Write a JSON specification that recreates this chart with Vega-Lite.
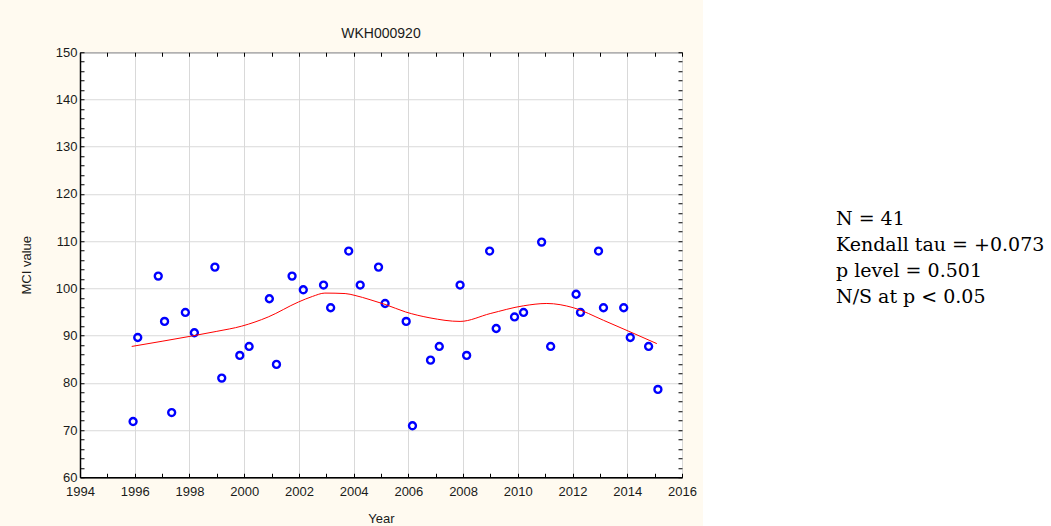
{
  "$schema": "https://vega.github.io/schema/vega-lite/v6.json",
  "background": "#fffaf0",
  "padding": {"left": 19, "top": 0, "right": 0, "bottom": 0},
  "spacing": 6,
  "center": true,
  "config": {
    "font": "Liberation Sans",
    "view": {"fill": "white", "stroke": "black", "strokeWidth": 1},
    "axis": {"labelFont": "Liberation Sans", "titleFont": "Liberation Sans", "labelFontSize": 13, "titleFontSize": 13, "titleFontWeight": "normal", "labelColor": "#1a1a1a", "titleColor": "#1a1a1a", "domainColor": "black", "tickColor": "black", "labelFlush": false, "labelOverlap": false}
  },
  "datasets": {
    "pts": [
      {"year": 1995.94, "mci": 71.8}, {"year": 1996.11, "mci": 89.6}, {"year": 1996.86, "mci": 102.6},
      {"year": 1997.09, "mci": 93.0}, {"year": 1997.35, "mci": 73.7}, {"year": 1997.85, "mci": 94.9},
      {"year": 1998.18, "mci": 90.6}, {"year": 1998.93, "mci": 104.5}, {"year": 1999.18, "mci": 81.0},
      {"year": 1999.84, "mci": 85.8}, {"year": 2000.18, "mci": 87.7}, {"year": 2000.92, "mci": 97.8},
      {"year": 2001.18, "mci": 83.9}, {"year": 2001.75, "mci": 102.6}, {"year": 2002.16, "mci": 99.7},
      {"year": 2002.90, "mci": 100.7}, {"year": 2003.16, "mci": 95.9}, {"year": 2003.82, "mci": 107.9},
      {"year": 2004.24, "mci": 100.7}, {"year": 2004.91, "mci": 104.5}, {"year": 2005.15, "mci": 96.8},
      {"year": 2005.92, "mci": 93.0}, {"year": 2006.15, "mci": 70.9}, {"year": 2006.81, "mci": 84.8},
      {"year": 2007.13, "mci": 87.7}, {"year": 2007.89, "mci": 100.7}, {"year": 2008.13, "mci": 85.8},
      {"year": 2008.97, "mci": 107.9}, {"year": 2009.21, "mci": 91.5}, {"year": 2009.88, "mci": 93.95},
      {"year": 2010.21, "mci": 94.9}, {"year": 2010.87, "mci": 109.8}, {"year": 2011.20, "mci": 87.7},
      {"year": 2012.13, "mci": 98.75}, {"year": 2012.29, "mci": 94.9}, {"year": 2012.95, "mci": 107.9},
      {"year": 2013.13, "mci": 95.9}, {"year": 2013.87, "mci": 95.9}, {"year": 2014.11, "mci": 89.6},
      {"year": 2014.78, "mci": 87.7}, {"year": 2015.12, "mci": 78.6}
    ],
    "fit": [
      {"year": 1995.89, "mci": 87.7}, {"year": 1997.0, "mci": 88.8}, {"year": 1998.08, "mci": 89.9},
      {"year": 1999.0, "mci": 90.9}, {"year": 1999.91, "mci": 92.0}, {"year": 2000.88, "mci": 93.95},
      {"year": 2001.98, "mci": 97.1}, {"year": 2002.5, "mci": 98.3}, {"year": 2002.95, "mci": 99.0},
      {"year": 2003.69, "mci": 98.9}, {"year": 2004.05, "mci": 98.5}, {"year": 2004.6, "mci": 97.6},
      {"year": 2005.15, "mci": 96.6}, {"year": 2005.9, "mci": 95.0}, {"year": 2006.79, "mci": 93.75},
      {"year": 2007.89, "mci": 93.0}, {"year": 2008.99, "mci": 94.66}, {"year": 2010.2, "mci": 96.3},
      {"year": 2011.06, "mci": 96.8}, {"year": 2012.03, "mci": 95.9}, {"year": 2013.13, "mci": 93.24},
      {"year": 2014.1, "mci": 90.8}, {"year": 2015.08, "mci": 88.3}
    ],
    "stats": [
      {"line": 1, "label": "N = 41"},
      {"line": 2, "label": "Kendall tau = +0.073"},
      {"line": 3, "label": "p level = 0.501"},
      {"line": 4, "label": "N/S at p < 0.05"}
    ]
  },
  "hconcat": [
    {
      "width": 602,
      "height": 425,
      "title": {"text": "WKH000920", "font": "Liberation Sans", "fontSize": 14, "fontWeight": "normal", "color": "#1a1a1a", "offset": 5},
      "layer": [
        {
          "data": {"name": "pts"},
          "mark": {"type": "point", "shape": "circle", "filled": false, "stroke": "#0000ff", "strokeWidth": 2.4, "size": 48, "opacity": 1},
          "encoding": {
            "x": {"field": "year", "type": "quantitative", "scale": {"domain": [1994, 2016], "nice": false, "zero": false},
              "axis": {"title": "Year", "format": "d", "values": [1994,1995,1996,1997,1998,1999,2000,2001,2002,2003,2004,2005,2006,2007,2008,2009,2010,2011,2012,2013,2014,2015,2016],
                "labelExpr": "datum.value % 2 === 0 ? datum.label : ''", "tickSize": -4, "labelPadding": 12, "titlePadding": 14, "domainWidth": 1.5,
                "grid": true, "gridColor": "#d9d9d9", "gridWidth": 1, "gridOpacity": {"condition": {"test": "datum.value % 2 === 0", "value": 1}, "value": 0}}},
            "y": {"field": "mci", "type": "quantitative", "scale": {"domain": [60, 150], "nice": false, "zero": false},
              "axis": {"title": "MCI value", "values": [60,62,64,66,68,70,72,74,76,78,80,82,84,86,88,90,92,94,96,98,100,102,104,106,108,110,112,114,116,118,120,122,124,126,128,130,132,134,136,138,140,142,144,146,148,150],
                "labelExpr": "datum.value % 10 === 0 ? datum.label : ''", "tickSize": -4, "labelPadding": 7, "titlePadding": 22, "domainWidth": 1.5,
                "grid": true, "gridColor": "#d9d9d9", "gridWidth": 1.2, "gridOpacity": {"condition": {"test": "datum.value % 10 === 0", "value": 1}, "value": 0}}}
          }
        },
        {
          "data": {"name": "fit"},
          "mark": {"type": "line", "color": "#ff0000", "strokeWidth": 1, "interpolate": "monotone"},
          "encoding": {
            "x": {"field": "year", "type": "quantitative",
              "axis": {"orient": "top", "title": null, "labels": false, "grid": false, "tickSize": -4, "domain": false, "values": [1994,1995,1996,1997,1998,1999,2000,2001,2002,2003,2004,2005,2006,2007,2008,2009,2010,2011,2012,2013,2014,2015,2016]}},
            "y": {"field": "mci", "type": "quantitative",
              "axis": {"orient": "right", "title": null, "labels": false, "grid": false, "tickSize": -4, "domain": false, "values": [60,62,64,66,68,70,72,74,76,78,80,82,84,86,88,90,92,94,96,98,100,102,104,106,108,110,112,114,116,118,120,122,124,126,128,130,132,134,136,138,140,142,144,146,148,150]}}
          }
        }
      ],
      "resolve": {"axis": {"x": "independent", "y": "independent"}}
    },
    {
      "width": 348,
      "height": 578,
      "view": {"fill": "white", "stroke": null},
      "data": {"name": "stats"},
      "mark": {"type": "text", "align": "left", "baseline": "alphabetic", "font": "DejaVu Serif", "fontSize": 19, "color": "black", "dx": -41},
      "encoding": {
        "y": {"field": "line", "type": "ordinal", "axis": null, "scale": {"type": "point", "range": [225, 303], "padding": 0}},
        "text": {"field": "label"}
      }
    }
  ]
}
